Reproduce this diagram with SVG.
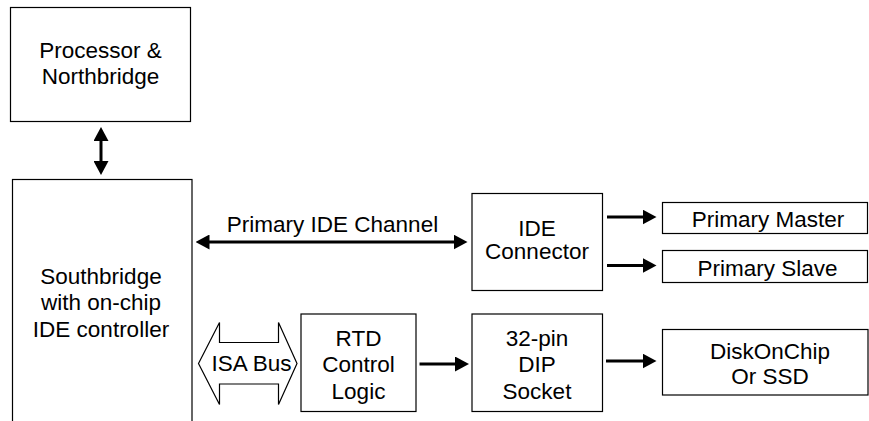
<svg xmlns="http://www.w3.org/2000/svg" width="869" height="421" viewBox="0 0 869 421">
<style>
.box{fill:#fff;stroke:#000;stroke-width:1.2}
.t{font-family:"Liberation Sans",Arial,sans-serif;font-size:22.5px;fill:#000;text-anchor:middle}
.c{stroke:#000;stroke-width:3;fill:none}
</style>
<defs>
<marker id="ah" viewBox="0 0 14 15" refX="1" refY="7.5" markerWidth="14" markerHeight="15" markerUnits="userSpaceOnUse" orient="auto-start-reverse">
<path d="M0,0 L14,7.5 L0,15 z" fill="#000"/>
</marker>
</defs>
<rect width="869" height="421" fill="#fff"/>
<g id="connectors">
<line class="c" x1="101" y1="140" x2="101" y2="162" marker-start="url(#ah)" marker-end="url(#ah)"/>
<line class="c" x1="208.5" y1="242" x2="454.5" y2="242" marker-start="url(#ah)" marker-end="url(#ah)"/>
<line class="c" x1="607" y1="217" x2="643.5" y2="217" marker-end="url(#ah)"/>
<line class="c" x1="607" y1="265.5" x2="643.5" y2="265.5" marker-end="url(#ah)"/>
<line class="c" x1="419.5" y1="364" x2="456" y2="364" marker-end="url(#ah)"/>
<line class="c" x1="606" y1="361" x2="643.5" y2="361" marker-end="url(#ah)"/>
<g id="isa-bus">
<polygon points="198.5,363.5 219.5,322.5 219.5,342.5 278.5,342.5 278.5,322.5 297,363.5 278.5,404.5 278.5,384 219.5,384 219.5,404.5" fill="#fff" stroke="#000" stroke-width="1.2"/>
<text class="t" x="251.5" y="370.5">ISA Bus</text>
</g>
<text class="t" x="332.5" y="232">Primary IDE Channel</text>
</g>
<g id="processor">
<rect class="box" x="10.5" y="7.5" width="180" height="114"/>
<text class="t" x="100.5" y="57.5">Processor &amp;</text>
<text class="t" x="100.5" y="83.5">Northbridge</text>
</g>
<g id="southbridge">
<rect class="box" x="12.5" y="179.5" width="179.5" height="270"/>
<text class="t" x="101" y="283.5">Southbridge</text>
<text class="t" x="101" y="310">with on-chip</text>
<text class="t" x="101" y="336.5">IDE controller</text>
</g>
<g id="ide-connector">
<rect class="box" x="472" y="193.5" width="130.5" height="97"/>
<text class="t" x="537" y="235.5">IDE</text>
<text class="t" x="537" y="259">Connector</text>
</g>
<g id="primary-master">
<rect class="box" x="662.5" y="202.5" width="205" height="31"/>
<text class="t" x="768" y="226.5">Primary Master</text>
</g>
<g id="primary-slave">
<rect class="box" x="662.5" y="250.5" width="205" height="32"/>
<text class="t" x="767.5" y="275.5">Primary Slave</text>
</g>
<g id="rtd">
<rect class="box" x="301" y="314" width="115" height="97.5"/>
<text class="t" x="358.5" y="345.5">RTD</text>
<text class="t" x="358.5" y="372">Control</text>
<text class="t" x="358.5" y="398.5">Logic</text>
</g>
<g id="dip-socket">
<rect class="box" x="472" y="314" width="130.5" height="97.5"/>
<text class="t" x="537" y="345.5">32-pin</text>
<text class="t" x="537" y="372">DIP</text>
<text class="t" x="537" y="398.5">Socket</text>
</g>
<g id="diskonchip">
<rect class="box" x="662.5" y="329.5" width="205.5" height="65.5"/>
<text class="t" x="770" y="359">DiskOnChip</text>
<text class="t" x="770" y="384">Or SSD</text>
</g>
</svg>
